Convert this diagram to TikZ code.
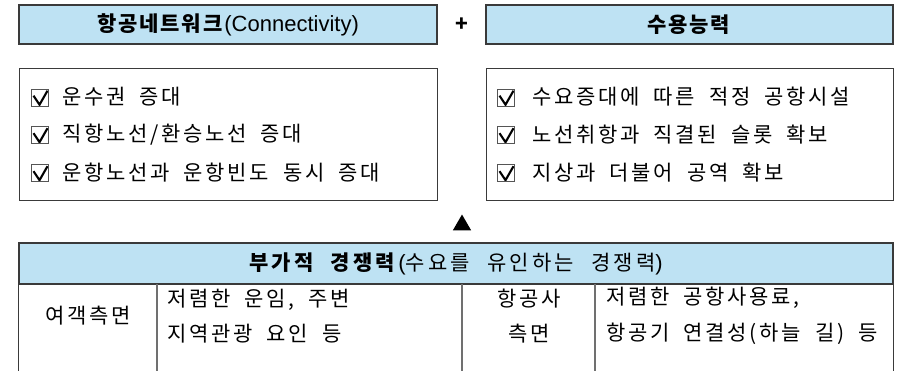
\documentclass[tikz,border=0pt]{standalone}
\usepackage{fontspec}
\setmainfont{Noto Sans CJK KR}
\newfontfamily\krs[LetterSpace=13, WordSpace=1.9]{Noto Sans CJK KR}
\newfontfamily\krh[LetterSpace=9, WordSpace=1.8]{Noto Sans CJK KR}
\newfontfamily\krb[LetterSpace=15, WordSpace=2.2]{Noto Sans CJK KR}
\newfontfamily\lat{Liberation Sans}
\usetikzlibrary{shapes.geometric}
\definecolor{hdrfill}{HTML}{BEE2F3}
\definecolor{edgecol}{HTML}{3A3A3A}
\definecolor{gridcol}{HTML}{707070}
\definecolor{chkcol}{HTML}{555555}
\tikzset{
  hdrbox/.style={draw=edgecol, line width=1.1pt, fill=hdrfill, inner sep=0pt, minimum height=39pt,
    font=\krh\fontsize{21}{24}\selectfont},
  listbox/.style={draw=edgecol, line width=1pt, inner sep=0pt, minimum height=132pt},
  item/.style={anchor=west, inner sep=0pt, font=\krs\fontsize{21}{24}\selectfont},
  cell/.style={inner sep=0pt, font=\krs\fontsize{21}{35.5}\selectfont, align=left},
  ccell/.style={inner sep=0pt, font=\krs\fontsize{21}{35.5}\selectfont, align=center},
  chkbox/.style={draw=chkcol, line width=0.8pt, inner sep=0pt, minimum size=17pt,
    path picture={\draw[black, line width=2.1pt, line join=miter]
      ([shift={(-6pt,1.8pt)}]path picture bounding box.center) -- ++(6pt,-9pt) -- ++(8pt,14pt);}}
}
\newcommand{\latp}[1]{{\lat\fontsize{22}{24}\selectfont #1}}
\begin{document}
\begin{tikzpicture}[x=1pt,y=-1pt]
\useasboundingbox (0,0) rectangle (901,370);
% header boxes
\node[hdrbox, minimum width=418pt] (hleft) at (228,24.5) {\textbf{항공네트워크}\latp{(Connectivity)}};
\node[font=\fontsize{21}{24}\selectfont\bfseries] (plus) at (462,25) {+};
\node[hdrbox, minimum width=407pt] (hright) at (689.5,24.5) {\textbf{수용능력}};
% list boxes
\node[listbox, minimum width=418pt] (lleft) at (228,134) {};
\node[listbox, minimum width=407pt] (lright) at (689.5,134) {};
\node[chkbox] (k1) at (39.5,97.5) {};
\node[chkbox] (k2) at (39.5,135) {};
\node[chkbox] (k3) at (39.5,173) {};
\node[item] (l1) at (62,97) {운수권 증대};
\node[item] (l2) at (62,134.5) {직항노선/환승노선 증대};
\node[item] (l3) at (62,172.5) {운항노선과 운항빈도 동시 증대};
\node[chkbox] (k4) at (505.5,97.5) {};
\node[chkbox] (k5) at (505.5,135) {};
\node[chkbox] (k6) at (505.5,173) {};
\node[item] (r1) at (532,97) {수요증대에 따른 적정 공항시설};
\node[item] (r2) at (532,134.5) {노선취항과 직결된 슬롯 확보};
\node[item] (r3) at (532,172.5) {지상과 더불어 공역 확보};
% triangle
\node[regular polygon, regular polygon sides=3, fill=black, inner sep=0pt, minimum size=21pt] (tri) at (462,225) {};
% table header
\node[hdrbox, minimum width=874pt, minimum height=41pt, font=\krb\fontsize{21}{24}\selectfont] (thead) at (456,263.5) {\textbf{부가적 경쟁력}\latp{(}수요를 유인하는 경쟁력\latp{)}};
% table body lines
\draw[edgecol, line width=1.1pt] (thead.south west) -- ++(0,90);
\draw[edgecol, line width=1.1pt] (thead.south east) -- ++(0,90);
\draw[gridcol, line width=1.3pt] (157,284) -- (157,372);
\draw[gridcol, line width=1.3pt] (462,284) -- (462,372);
\draw[gridcol, line width=1.3pt] (595,284) -- (595,372);
% cells
\node[ccell] (c1) at (88,316) {여객측면};
\node[cell, anchor=west] (c2) at (167,316) {저렴한 운임, 주변\\지역관광 요인 등};
\node[ccell] (c3) at (529,316) {항공사\\측면};
\node[cell, anchor=west] (c4) at (606,316) {저렴한 공항사용료,\\항공기 연결성(하늘 길) 등};
\end{tikzpicture}
\end{document}
